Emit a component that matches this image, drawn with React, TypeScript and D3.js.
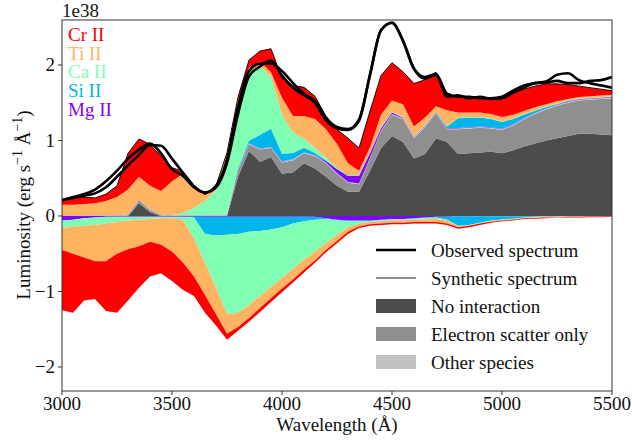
import React from "react";
import * as d3 from "d3";

// ---------- data (luminosity in units of 1e38 erg/s/Å) ----------
const wavelengths = [
  3000, 3050, 3100, 3150, 3200, 3250, 3300, 3350, 3400, 3450, 3500, 3550, 3600, 3650, 3700, 3750, 3800,
  3850, 3900, 3950, 4000, 4050, 4100, 4150, 4200, 4250, 4300, 4350, 4400, 4450, 4500, 4550, 4600, 4650,
  4700, 4750, 4800, 4850, 4900, 4950, 5000, 5050, 5100, 5150, 5200, 5250, 5300, 5350, 5400, 5450, 5500,
];

// emission contributions (stacked upward)
const noInteraction = [
  0, 0, 0, 0, 0, 0, 0, 0.17, 0.05, 0, 0, 0, 0, 0, 0, 0, 0.52, 0.86, 0.72, 0.78, 0.56, 0.58, 0.7, 0.63, 0.52,
  0.4, 0.32, 0.32, 0.6, 0.9, 1.06, 0.98, 0.76, 0.82, 1.03, 0.98, 0.82, 0.83, 0.84, 0.85, 0.83, 0.87, 0.92,
  0.96, 1.0, 1.03, 1.06, 1.09, 1.09, 1.08, 1.07,
];
const electronScatter = [
  0, 0, 0, 0, 0, 0, 0.01, 0.04, 0.03, 0.01, 0, 0, 0, 0, 0, 0, 0.08, 0.09, 0.16, 0.12, 0.15, 0.16, 0.13, 0.16,
  0.18, 0.16, 0.12, 0.1, 0.16, 0.22, 0.28, 0.3, 0.27, 0.36, 0.33, 0.17, 0.33, 0.33, 0.33, 0.31, 0.31, 0.33,
  0.36, 0.39, 0.41, 0.43, 0.44, 0.44, 0.45, 0.47, 0.49,
];
const otherSpecies = [
  0.005, 0.005, 0.005, 0.005, 0.005, 0.005, 0.005, 0.005, 0.005, 0.005, 0.005, 0.005, 0.005, 0.005, 0.005,
  0.005, 0.01, 0.01, 0.01, 0.01, 0.01, 0.01, 0.01, 0.01, 0.01, 0.01, 0.01, 0.01, 0.01, 0.01, 0.01, 0.01, 0.01,
  0.01, 0.01, 0.01, 0.01, 0.01, 0.01, 0.01, 0.01, 0.01, 0.01, 0.01, 0.01, 0.01, 0.01, 0.01, 0.01, 0.01, 0.01,
];
const mgEmission = [
  0.005, 0.005, 0.005, 0.005, 0.005, 0.005, 0.005, 0.005, 0.005, 0.005, 0.005, 0.005, 0.005, 0.005, 0.005,
  0.005, 0.005, 0.005, 0.005, 0.005, 0.005, 0.005, 0.005, 0.005, 0.02, 0.05, 0.08, 0.1, 0.06, 0.03, 0.02, 0.01,
  0.005, 0.005, 0.005, 0.005, 0.005, 0.005, 0.005, 0.005, 0.005, 0.005, 0.005, 0.005, 0.005, 0.005, 0.005,
  0.005, 0.005, 0.005, 0.005,
];
const siEmission = [
  0, 0, 0, 0, 0, 0, 0, 0, 0, 0, 0, 0, 0, 0, 0, 0, 0.02, 0.03, 0.18, 0.24, 0.1, 0.08, 0.06, 0.03, 0.01, 0.005,
  0.005, 0.005, 0.005, 0.005, 0.005, 0.005, 0.005, 0.005, 0.005, 0.02, 0.13, 0.13, 0.12, 0.11, 0.09, 0.07,
  0.05, 0.03, 0.02, 0.01, 0.01, 0.005, 0.005, 0.005, 0.005,
];
const caEmission = [
  0, 0, 0, 0, 0, 0, 0, 0, 0, 0, 0, 0.03, 0.1, 0.19, 0.33, 0.78, 0.87, 0.93, 0.91, 0.69, 0.52, 0.27, 0.12, 0.07,
  0.03, 0.01, 0.005, 0.005, 0.005, 0.005, 0.005, 0.005, 0.005, 0.005, 0.005, 0.005, 0.005, 0.005, 0.005,
  0.005, 0.005, 0.005, 0.005, 0.005, 0.005, 0.005, 0.005, 0.005, 0.005, 0.005, 0.005,
];
const tiEmission = [
  0.14, 0.14, 0.15, 0.16, 0.19, 0.24, 0.33, 0.3, 0.31, 0.31, 0.45, 0.52, 0.3, 0.08, 0.05, 0.03, 0.04, 0.04,
  0.06, 0.06, 0.22, 0.22, 0.3, 0.38, 0.38, 0.32, 0.16, 0.06, 0.07, 0.17, 0.15, 0.17, 0.13, 0.1, 0.07, 0.21,
  0.07, 0.06, 0.06, 0.06, 0.06, 0.05, 0.04, 0.04, 0.03, 0.03, 0.02, 0.02, 0.02, 0.02, 0.02,
];
const crEmission = [
  0.06, 0.09, 0.09, 0.07, 0.09, 0.15, 0.48, 0.5, 0.55, 0.46, 0.18, 0.03, 0, 0, 0.01, 0.02, 0.03, 0.1, 0.14,
  0.31, 0.26, 0.4, 0.38, 0.3, 0.17, 0.19, 0.33, 0.3, 0.48, 0.52, 0.5, 0.43, 0.57, 0.5, 0.45, 0.22, 0.21, 0.2,
  0.19, 0.2, 0.27, 0.3, 0.29, 0.28, 0.27, 0.23, 0.19, 0.145, 0.115, 0.085, 0.055,
];

// absorption contributions (magnitudes, stacked downward from zero)
const mgAbsorption = [
  0.06, 0.05, 0.03, 0.02, 0.01, 0.01, 0.01, 0.01, 0.01, 0.01, 0.01, 0.01, 0.01, 0.01, 0.01, 0.01, 0.01, 0.01,
  0.01, 0.01, 0.01, 0.01, 0.01, 0.01, 0.03, 0.05, 0.06, 0.06, 0.06, 0.05, 0.04, 0.04, 0.03, 0.02, 0.01, 0.01,
  0.005, 0.005, 0.005, 0.005, 0.005, 0.005, 0.005, 0.005, 0.005, 0.004, 0.004, 0.003, 0.003, 0.002, 0.002,
];
const siAbsorption = [
  0, 0, 0, 0, 0, 0, 0, 0, 0, 0, 0, 0, 0.01, 0.23, 0.25, 0.24, 0.23, 0.2, 0.19, 0.17, 0.14, 0.09, 0.06, 0.04,
  0.01, 0.005, 0.005, 0.005, 0.005, 0.005, 0.005, 0.005, 0.005, 0.005, 0.01, 0.04, 0.125, 0.115, 0.085, 0.055,
  0.04, 0.03, 0.015, 0.005, 0.003, 0.002, 0.001, 0.001, 0.001, 0.001, 0.001,
];
const caAbsorption = [
  0.1, 0.09, 0.1, 0.1, 0.09, 0.07, 0.05, 0.04, 0.03, 0.02, 0.02, 0.04, 0.28, 0.38, 0.69, 1.05, 1.04, 0.97, 0.86,
  0.76, 0.67, 0.6, 0.51, 0.42, 0.32, 0.195, 0.085, 0.035, 0.015, 0.015, 0.015, 0.01, 0.015, 0.02, 0.02, 0.01,
  0.005, 0.005, 0.005, 0.005, 0.005, 0.005, 0.005, 0.005, 0.002, 0.002, 0.002, 0.002, 0.001, 0.001, 0.001,
];
const tiAbsorption = [
  0.29, 0.36, 0.42, 0.48, 0.5, 0.42, 0.38, 0.35, 0.3, 0.35, 0.44, 0.57, 0.5, 0.43, 0.35, 0.26, 0.19, 0.17,
  0.16, 0.15, 0.14, 0.14, 0.13, 0.12, 0.09, 0.08, 0.06, 0.04, 0.03, 0.03, 0.03, 0.035, 0.03, 0.035, 0.04,
  0.04, 0.015, 0.005, 0.005, 0.01, 0.01, 0.01, 0.005, 0.01, 0.01, 0.007, 0.003, 0.004, 0.003, 0.004, 0.001,
];
const crAbsorption = [
  0.8, 0.78, 0.57, 0.5, 0.66, 0.78, 0.68, 0.55, 0.46, 0.38, 0.39, 0.36, 0.26, 0.23, 0.15, 0.08, 0.05, 0.05,
  0.05, 0.05, 0.05, 0.04, 0.04, 0.03, 0.03, 0.03, 0.03, 0.02, 0.02, 0.02, 0.02, 0.02, 0.02, 0.02, 0.02, 0.02,
  0.02, 0.02, 0.02, 0.015, 0.01, 0.01, 0.01, 0.01, 0.01, 0.005, 0.01, 0.01, 0.007, 0.007, 0.005,
];

// observed spectra
const observedA = [
  0.21, 0.24, 0.27, 0.3, 0.38, 0.52, 0.67, 0.81, 0.94, 0.93, 0.76, 0.57, 0.39, 0.31, 0.38, 0.7, 1.35, 1.85,
  1.98, 2.06, 1.86, 1.7, 1.6, 1.5, 1.27, 1.16, 1.14, 1.26, 1.87, 2.46, 2.56, 2.32, 1.95, 1.82, 1.87, 1.58, 1.6,
  1.56, 1.58, 1.55, 1.56, 1.63, 1.7, 1.76, 1.77, 1.79, 1.76, 1.76, 1.79, 1.8, 1.84,
];
const observedB = [
  0.21, 0.25, 0.29, 0.35, 0.46, 0.6, 0.76, 0.88, 0.96, 0.83, 0.62, 0.53, 0.38, 0.31, 0.4, 0.75, 1.45, 1.92,
  2.02, 2.02, 1.92, 1.76, 1.62, 1.52, 1.3, 1.18, 1.15, 1.28, 1.87, 2.46, 2.56, 2.32, 1.95, 1.84, 1.88, 1.62,
  1.58, 1.58, 1.56, 1.56, 1.58, 1.66, 1.73, 1.76, 1.78, 1.87, 1.89, 1.8, 1.76, 1.73, 1.7,
];

const xTicks = [3000, 3500, 4000, 4500, 5000, 5500];
const yTicks = [-2, -1, 0, 1, 2];

const speciesNames = ["Cr II", "Ti II", "Ca II", "Si II", "Mg II"];
const speciesColors = ["#ff0000", "#ffb462", "#80ffb4", "#00b4ec", "#8000ff"];

const emissionKeys = ["noint", "escatter", "other", "Mg II", "Si II", "Ca II", "Ti II", "Cr II"];
const emissionColors: Record<string, string> = {
  noint: "#4c4c4c",
  escatter: "#8f8f8f",
  other: "#c2c2c2",
  "Mg II": "#8000ff",
  "Si II": "#00b4ec",
  "Ca II": "#80ffb4",
  "Ti II": "#ffb462",
  "Cr II": "#ff0000",
};
const absorptionKeys = ["Mg II", "Si II", "Ca II", "Ti II", "Cr II"];

const legendLabels = ["Observed spectrum", "Synthetic spectrum", "No interaction", "Electron scatter only", "Other species"];

const FONT = "'Liberation Serif', 'Times New Roman', 'DejaVu Serif', serif";

export default function App() {
  const W = 632;
  const H = 441;
  const L = 62, R = 612, T = 20, B = 391;
  const x = d3.scaleLinear().domain([3000, 5500]).range([L, R]);
  const y = d3.scaleLinear().domain([-2.318, 2.596]).range([B, T]);

  const emRows = wavelengths.map((w, i) => ({
    w,
    noint: noInteraction[i],
    escatter: electronScatter[i],
    other: otherSpecies[i],
    "Mg II": mgEmission[i],
    "Si II": siEmission[i],
    "Ca II": caEmission[i],
    "Ti II": tiEmission[i],
    "Cr II": crEmission[i],
  }));
  const abRows = wavelengths.map((w, i) => ({
    w,
    "Mg II": -mgAbsorption[i],
    "Si II": -siAbsorption[i],
    "Ca II": -caAbsorption[i],
    "Ti II": -tiAbsorption[i],
    "Cr II": -crAbsorption[i],
  }));

  const emStack = d3.stack<any>().keys(emissionKeys)(emRows);
  const abStack = d3.stack<any>().keys(absorptionKeys).offset(d3.stackOffsetDiverging)(abRows);

  const area = d3
    .area<any>()
    .x((d) => x(d.data.w))
    .y0((d) => y(d[0]))
    .y1((d) => y(d[1]));

  const synthetic = emRows.map((r) => emissionKeys.reduce((s, k) => s + (r as any)[k], 0));
  const line = d3
    .line<number>()
    .x((_, i) => x(wavelengths[i]))
    .y((d) => y(d))
    .curve(d3.curveMonotoneX);
  const synthLine = d3
    .line<number>()
    .x((_, i) => x(wavelengths[i]))
    .y((d) => y(d));

  const legendX0 = 376;
  const legendRowY = [250, 278, 306, 334, 362];

  return (
    <svg
      width={W}
      height={H}
      viewBox={`0 0 ${W} ${H}`}
      style={{ position: "absolute", left: 0, top: 0, background: "#fff" }}
      fontFamily={FONT}
    >
      <defs>
        <clipPath id="plotClip">
          <rect x={L} y={T} width={R - L} height={B - T} />
        </clipPath>
      </defs>
      <rect x={0} y={0} width={W} height={H} fill="#fff" />
      <g clipPath="url(#plotClip)">
        {emStack.map((s) => (
          <path key={"em" + s.key} d={area(s) || ""} fill={emissionColors[s.key]} stroke="none" />
        ))}
        {abStack.map((s) => (
          <path key={"ab" + s.key} d={area(s) || ""} fill={emissionColors[s.key]} stroke="none" />
        ))}
        <path d={synthLine(synthetic) || ""} fill="none" stroke="#000" strokeWidth={0.9} />
        <path d={line(observedB) || ""} fill="none" stroke="#000" strokeWidth={2.6} strokeLinejoin="round" />
        <path d={line(observedA) || ""} fill="none" stroke="#000" strokeWidth={2.6} strokeLinejoin="round" />
      </g>

      {/* frame */}
      <rect x={L} y={T} width={R - L} height={B - T} fill="none" stroke="#333" strokeWidth={1} />

      {/* x axis */}
      {xTicks.map((t) => (
        <g key={"xt" + t}>
          <line x1={x(t)} x2={x(t)} y1={B} y2={B + 4} stroke="#333" strokeWidth={1} />
          <text x={x(t)} y={410} textAnchor="middle" fontSize={19} fill="#111">
            {t}
          </text>
        </g>
      ))}
      <text x={(L + R) / 2} y={431} textAnchor="middle" fontSize={19} fill="#111">
        Wavelength (Å)
      </text>

      {/* y axis */}
      {yTicks.map((t) => (
        <g key={"yt" + t}>
          <line x1={L - 4} x2={L} y1={y(t)} y2={y(t)} stroke="#333" strokeWidth={1} />
          <text x={L - 7} y={y(t) + 6.5} textAnchor="end" fontSize={19} fill="#111">
            {t < 0 ? "\u2212" + Math.abs(t) : String(t)}
          </text>
        </g>
      ))}
      <text x={L} y={17} fontSize={19} fill="#111">
        1e38
      </text>
      <text transform={`translate(30, 205) rotate(-90)`} textAnchor="middle" fontSize={19} fill="#111">
        Luminosity (erg s
        <tspan dy={-8} fontSize={14}>
          {"\u22121"}
        </tspan>
        <tspan dy={8}> Å</tspan>
        <tspan dy={-8} fontSize={14}>
          {"\u22121"}
        </tspan>
        <tspan dy={8}>)</tspan>
      </text>

      {/* species labels */}
      {speciesNames.map((n, i) => (
        <text key={n} x={68} y={41 + i * 18.7} fontSize={19} fill={speciesColors[i]}>
          {n}
        </text>
      ))}

      {/* legend */}
      <line x1={legendX0} x2={legendX0 + 40} y1={legendRowY[0]} y2={legendRowY[0]} stroke="#000" strokeWidth={2.6} />
      <line x1={legendX0} x2={legendX0 + 40} y1={legendRowY[1]} y2={legendRowY[1]} stroke="#000" strokeWidth={0.9} />
      <rect x={legendX0} y={legendRowY[2] - 7} width={40} height={14} fill={emissionColors.noint} />
      <rect x={legendX0} y={legendRowY[3] - 7} width={40} height={14} fill={emissionColors.escatter} />
      <rect x={legendX0} y={legendRowY[4] - 7} width={40} height={14} fill={emissionColors.other} />
      {legendLabels.map((lab, i) => (
        <text key={lab} x={431} y={legendRowY[i] + 6.5} fontSize={19} fill="#111">
          {lab}
        </text>
      ))}
    </svg>
  );
}
